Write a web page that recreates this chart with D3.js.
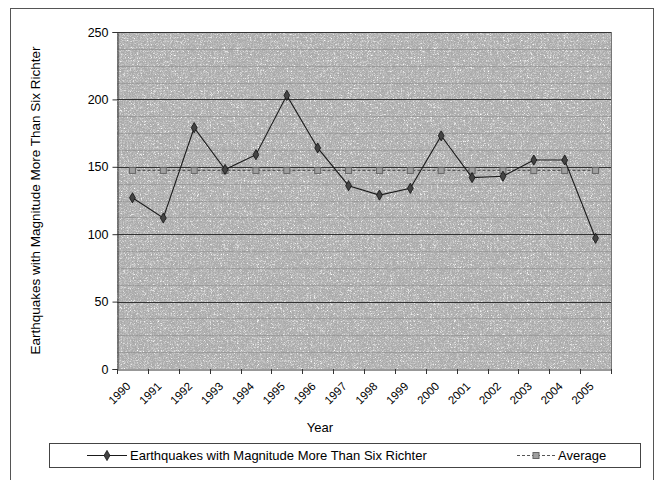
<!DOCTYPE html>
<html><head><meta charset="utf-8">
<script src="https://cdn.jsdelivr.net/npm/d3@7"></script>
<style>
html,body{margin:0;padding:0;background:#fff;}
text{font-family:"Liberation Sans",Arial,sans-serif;fill:#000;}
</style></head>
<body><svg id="c" width="656" height="480"></svg>
<script>
const years = ["1990","1991","1992","1993","1994","1995","1996","1997","1998","1999","2000","2001","2002","2003","2004","2005"];
const quakes = [127,112,179,148,159,203,164,136,129,134,173,142,143,155,155,97];
const average = [147.3,147.3,147.3,147.3,147.3,147.3,147.3,147.3,147.3,147.3,147.3,147.3,147.3,147.3,147.3,147.3];
const yTicks = [0,50,100,150,200,250];
const yMinorTicks = [12.5,25,37.5,62.5,75,87.5,112.5,125,137.5,162.5,175,187.5,212.5,225,237.5];
const seriesNames = ["Earthquakes with Magnitude More Than Six Richter","Average"];
const yTitle = "Earthquakes with Magnitude More Than Six Richter";
const xTitle = "Year";

const svg = d3.select("#c");
const L=117, R=611, T=32, B=369;

// outer frame
svg.append("rect").attr("x",10.5).attr("y",8.5).attr("width",643).attr("height",490)
  .attr("fill","#fff").attr("stroke","#555").attr("stroke-width",1);

// grain filter for plot texture
const defs = svg.append("defs");
const f = defs.append("filter").attr("id","noise").attr("filterUnits","userSpaceOnUse")
  .attr("x",L).attr("y",T).attr("width",R-L).attr("height",B-T);
f.append("feTurbulence").attr("type","turbulence").attr("baseFrequency",1.3).attr("numOctaves",2).attr("seed",11).attr("result","t");
f.append("feColorMatrix").attr("in","t").attr("type","matrix")
  .attr("values","0 0 0 0 0.4  0 0 0 0 0.4  0 0 0 0 0.4  0 0 0 -3 1.35").attr("result","dark");
f.append("feColorMatrix").attr("in","t").attr("type","matrix")
  .attr("values","0 0 0 0 1  0 0 0 0 1  0 0 0 0 1  0 0 0 3 -1.3").attr("result","light");
f.append("feMerge").selectAll("feMergeNode").data(["SourceGraphic","dark","light"]).join("feMergeNode").attr("in",d=>d);

const x = d3.scaleBand().domain(years).range([L,R]).padding(0);
const y = d3.scaleLinear().domain([0,250]).range([B,T]);

svg.append("rect").attr("x",L).attr("y",T).attr("width",R-L).attr("height",B-T)
  .attr("fill","#c6c6c6").attr("filter","url(#noise)");

// minor gridlines
svg.append("g").selectAll("line").data(yMinorTicks).join("line")
  .attr("x1",L).attr("x2",R).attr("y1",d=>Math.round(y(d))+0.5).attr("y2",d=>Math.round(y(d))+0.5)
  .attr("stroke","#888").attr("stroke-width",1).attr("opacity",0.5);
// major gridlines
svg.append("g").selectAll("line").data(yTicks.slice(1)).join("line")
  .attr("x1",L).attr("x2",R).attr("y1",d=>Math.round(y(d))+0.5).attr("y2",d=>Math.round(y(d))+0.5)
  .attr("stroke","#333").attr("stroke-width",1);

// plot border right
svg.append("line").attr("x1",R+0.5).attr("x2",R+0.5).attr("y1",T).attr("y2",B).attr("stroke","#777");

// y axis
const yAxis = svg.append("g").attr("transform",`translate(${L+0.5},0)`)
  .call(d3.axisLeft(y).tickValues(yTicks).tickSize(5).tickPadding(4).tickFormat(d3.format("d")));
yAxis.select(".domain").attr("stroke","#333");
yAxis.selectAll("line").attr("stroke","#333");
yAxis.selectAll("text").attr("font-size","12.5px").attr("fill","#000");

// x axis
const xAxis = svg.append("g").attr("transform",`translate(0,${B+0.5})`)
  .call(d3.axisBottom(x).tickSize(0).tickFormat(""));
xAxis.select(".domain").attr("stroke","#333");
svg.append("g").selectAll("line").data(years.concat(["end"])).join("line")
  .attr("x1",(d,i)=>Math.round(L+i*x.bandwidth())+0.5).attr("x2",(d,i)=>Math.round(L+i*x.bandwidth())+0.5)
  .attr("y1",B).attr("y2",B+5).attr("stroke","#333");
svg.append("g").selectAll("text").data(years).join("text")
  .attr("transform",d=>`translate(${x(d)+x.bandwidth()/2-4},${B+15}) rotate(-45)`)
  .attr("text-anchor","end").attr("font-size","11.5px").attr("dy","0.35em").text(d=>d);

// titles
svg.append("text").attr("transform",`translate(40,${(T+B)/2}) rotate(-90)`)
  .attr("text-anchor","middle").attr("font-size","13.5px").text(yTitle);
svg.append("text").attr("x",320).attr("y",432).attr("text-anchor","middle").attr("font-size","13px").text(xTitle);

const cx = d=>x(d)+x.bandwidth()/2;

// average series
const avgLine = d3.line().x((d,i)=>cx(years[i])).y(d=>y(d));
svg.append("path").datum(average).attr("d",avgLine).attr("fill","none")
  .attr("stroke","#555").attr("stroke-width",1.2).attr("stroke-dasharray","3,2");
svg.append("g").selectAll("rect").data(average).join("rect")
  .attr("x",(d,i)=>cx(years[i])-3).attr("y",d=>y(d)-3).attr("width",6).attr("height",6)
  .attr("fill","#a0a0a0").attr("stroke","#666").attr("stroke-width",1);

// main series
const line = d3.line().x((d,i)=>cx(years[i])).y(d=>y(d));
svg.append("path").datum(quakes).attr("d",line).attr("fill","none").attr("stroke","#1a1a1a").attr("stroke-width",1.1);
const diamond = d3.symbol().type(d3.symbolDiamond).size(30);
svg.append("g").selectAll("path").data(quakes).join("path")
  .attr("transform",(d,i)=>`translate(${cx(years[i])},${y(d)})`)
  .attr("d",diamond).attr("fill","#444").attr("stroke","#111").attr("stroke-width",0.8);

// legend
svg.append("rect").attr("x",49.5).attr("y",443.5).attr("width",591).attr("height",24)
  .attr("fill","#fff").attr("stroke","#444");
const ly = 455.5;
svg.append("line").attr("x1",87).attr("x2",127).attr("y1",ly).attr("y2",ly).attr("stroke","#1a1a1a").attr("stroke-width",1.1);
svg.append("path").attr("transform",`translate(107,${ly})`).attr("d",diamond).attr("fill","#444").attr("stroke","#111").attr("stroke-width",0.8);
svg.append("text").attr("x",130).attr("y",ly).attr("dy","0.35em").attr("font-size","13px").text(seriesNames[0]);
svg.append("line").attr("x1",517).attr("x2",555).attr("y1",ly).attr("y2",ly).attr("stroke","#555").attr("stroke-width",1.2).attr("stroke-dasharray","3,2");
svg.append("rect").attr("x",533).attr("y",ly-3).attr("width",6).attr("height",6).attr("fill","#a0a0a0").attr("stroke","#666");
svg.append("text").attr("x",558).attr("y",ly).attr("dy","0.35em").attr("font-size","13px").text(seriesNames[1]);
</script></body></html>
